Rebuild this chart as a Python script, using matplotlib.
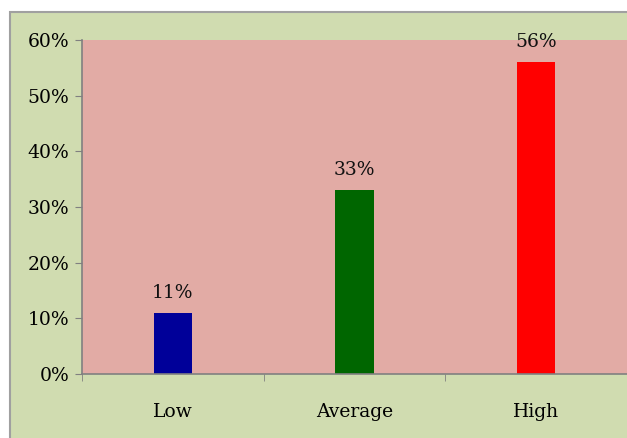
"""Bar chart of share by level (Low / Average / High)."""

import matplotlib
matplotlib.use("Agg")
import matplotlib.pyplot as plt
from matplotlib.patches import Rectangle
from matplotlib.ticker import FixedLocator, FuncFormatter

categories = ["Low", "Average", "High"]
shares = [11, 33, 56]
bar_colors = ["#000099", "#006600", "#ff0000"]
y_ticks = [0, 10, 20, 30, 40, 50, 60]

plt.rcParams["font.family"] = ["DejaVu Serif"]

W, H = 627, 438
fig = plt.figure(figsize=(W / 100, H / 100), dpi=100)
fig.patch.set_facecolor("white")

# outer chart frame (cut off on the right and bottom in the screenshot)
frame = Rectangle((10 / W, -0.05), 1.1, (H - 12) / H + 0.05, transform=fig.transFigure,
                  facecolor="#d0dcb0", edgecolor="#a0a0a0", linewidth=1.5, zorder=-5)
fig.patches.append(frame)

ax = fig.add_axes([82 / W, (H - 374) / H, (W - 82) / W, (374 - 40) / H])
ax.set_facecolor("#e2aba5")

fs = 13.5
x = range(len(categories))
ax.bar(x, shares, width=0.21, color=bar_colors, edgecolor="none", zorder=2)
for i, v in enumerate(shares):
    ax.text(i, v + 2.0, f"{v}%", ha="center", va="bottom", fontsize=fs, color="#111111")

ax.set_xlim(-0.5, len(categories) - 0.5)
ax.set_ylim(0, 60)
ax.set_yticks(y_ticks)
ax.yaxis.set_major_formatter(FuncFormatter(lambda v, _: f"{v:.0f}%"))

ax.set_xticks(list(x))
ax.set_xticklabels(categories)
ax.xaxis.set_minor_locator(FixedLocator([-0.5, 0.5, 1.5, 2.5]))
ax.tick_params(axis="x", which="major", length=0, pad=21, labelsize=fs)
ax.tick_params(axis="x", which="minor", length=5, color="#808080", direction="out")
ax.tick_params(axis="y", length=5, color="#808080", direction="out", pad=4, labelsize=fs)

for side in ["top", "right"]:
    ax.spines[side].set_visible(False)
for side in ["left", "bottom"]:
    ax.spines[side].set_color("#808080")
    ax.spines[side].set_linewidth(1.2)

fig.savefig("out.png", dpi=100)
